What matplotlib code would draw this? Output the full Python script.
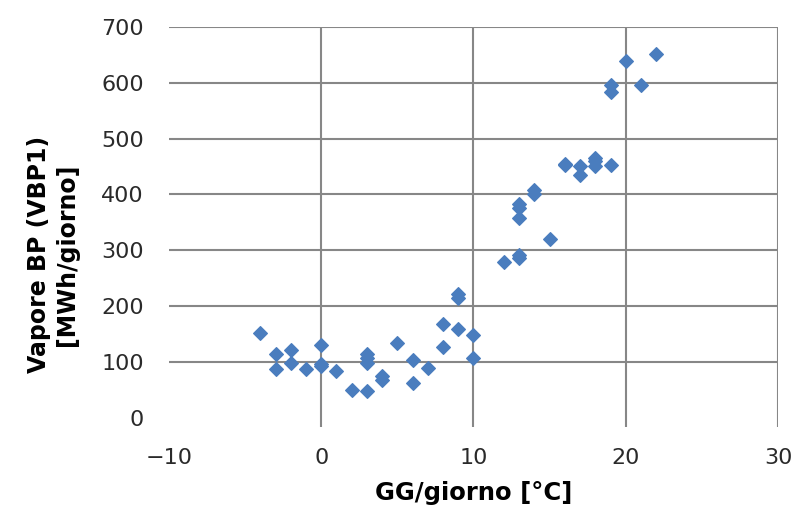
import matplotlib
matplotlib.use("Agg")
import matplotlib.pyplot as plt

# GG/giorno [°C] vs Vapore BP [MWh/giorno]
gg = [-4, -3, -3, -2, -2, -1, 0, 0, 0, 1, 2, 3, 3, 3, 3, 4, 4,
      5, 6, 6, 7, 8, 8, 9, 9, 9, 10, 10, 12, 13, 13, 13, 13, 13,
      14, 14, 15, 16, 16, 17, 17, 18, 18, 18, 19, 19, 19, 20, 21, 22]
vapore = [152, 115, 88, 121, 99, 88, 130, 97, 94, 85, 50, 115, 108, 99, 48, 75, 68,
          134, 104, 63, 89, 168, 127, 160, 222, 214, 149, 107, 279, 291, 287, 382, 376, 358,
          408, 401, 320, 455, 452, 450, 435, 465, 459, 450, 453, 595, 583, 639, 595, 652]

xticks = [-10, 0, 10, 20, 30]
yticks = [0, 100, 200, 300, 400, 500, 600, 700]

fig = plt.figure(figsize=(7.99, 5.07), dpi=100)
ax = fig.add_axes([0.2115, 0.1578, 0.7622, 0.7895])

ax.plot(gg, vapore, linestyle="none", marker="D", markersize=7.2,
        color="#4A7DBE", markeredgecolor="#4A7DBE", markeredgewidth=0.8, zorder=3)

ax.set_xlim(-10, 30)
ax.set_ylim(-16, 700)
ax.set_xticks(xticks)
ax.set_yticks(yticks)
ax.set_xticklabels(["\u221210", "0", "10", "20", "30"])

ax.grid(True, color="#878787", linewidth=1.5)
ax.set_axisbelow(True)
ax.xaxis.get_gridlines()[0].set_visible(False)
ax.yaxis.get_gridlines()[0].set_visible(False)

for s in ax.spines.values():
    s.set_visible(False)
ax.tick_params(length=0, labelsize=16, labelcolor="#2a2a2a")
ax.tick_params(axis="x", pad=15)
ax.tick_params(axis="y", pad=18)

ax.set_xlabel("GG/giorno [°C]", fontsize=17.5, fontweight="bold")
ax.set_ylabel("Vapore BP (VBP1)\n[MWh/giorno]", fontsize=17, fontweight="bold",
              linespacing=1.2)
ax.xaxis.set_label_coords(0.5, -0.135)
ax.yaxis.set_label_coords(-0.148, 0.43)

fig.savefig("out.png", dpi=100)
